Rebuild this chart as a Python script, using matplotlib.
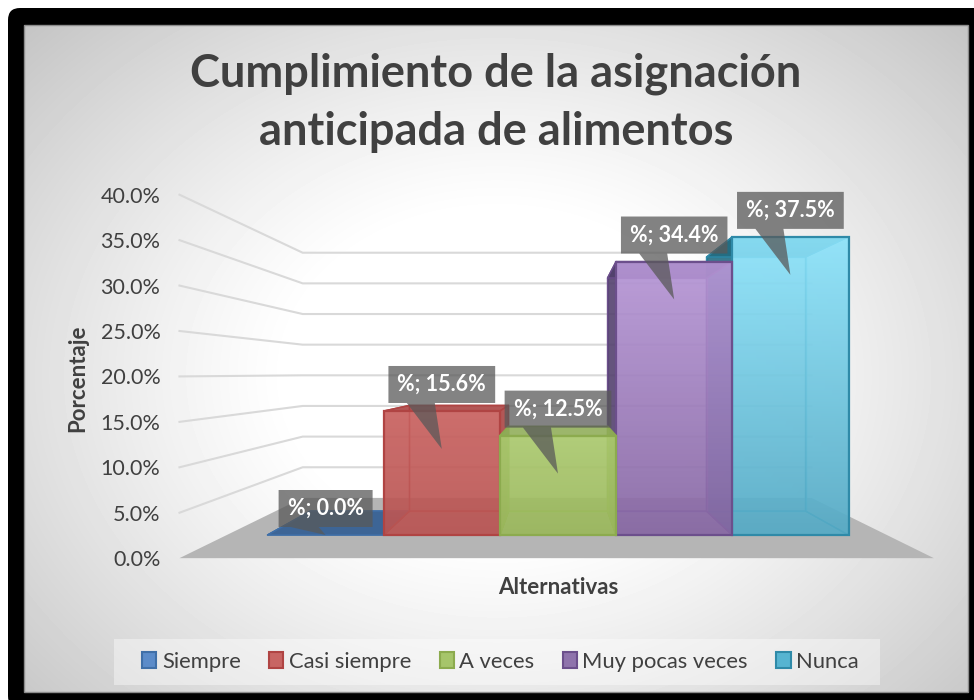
import numpy as np
import matplotlib
matplotlib.use('Agg')
import matplotlib.pyplot as plt
from matplotlib.patches import Polygon, Rectangle, Patch, FancyBboxPatch

# datos del grafico
categorias = ['Siempre', 'Casi siempre', 'A veces', 'Muy pocas veces', 'Nunca']
porcentajes = [0.0, 15.6, 12.5, 34.4, 37.5]
ticks_y = [0, 5, 10, 15, 20, 25, 30, 35, 40]
titulo = 'Cumplimiento de la asignación\nanticipada de alimentos'
eje_x = 'Alternativas'
eje_y = 'Porcentaje'

color_base = ['#5b8bc9', '#c86563', '#a6c56a', '#8f73ac', '#56b4d1']
color_borde = ['#3f6fa8', '#b04443', '#8cab4e', '#6c4f8c', '#2f8aa8']
color_oscuro = ['#3c6496', '#a84040', '#8fac58', '#4f3d6a', '#1f6a80']
color_arriba = ['#5b8bc9', '#c96260', '#abc96f', '#b797d7', '#8ee4fb']
color_abajo = ['#5b8bc9', '#b85452', '#9ab75b', '#8767a3', '#55aac5']

plt.rcParams['font.family'] = ['Lato', 'DejaVu Sans']
TEXTO = '#404040'

# escala del plano frontal de las barras: pixeles por categoria y por punto porcentual
PX_X = 116.2
PX_Y = 7.95
X0_PX = 267.5   # pixel x de la categoria 0
Y0_PX = 535.0   # pixel y del 0 %
XC = 2.5        # punto de fuga en unidades de categoria
YC = (Y0_PX - 373.0) / PX_Y

# profundidades de la perspectiva
S_PARED_FRENTE = 1.143
S_BARRA_FRENTE = 1.0
S_BARRA_FONDO = 0.852
S_PARED_FONDO = 0.771
X_IZQ = -0.35
X_DER = 5.33


def persp(x, y, s):
    return XC + s * (x - XC), YC + s * (y - YC)


fig = plt.figure(figsize=(9.74, 7.0), dpi=100, facecolor='white')

# fondo con degradado radial y marco negro, en pixeles
fondo = fig.add_axes([0, 0, 1, 1], zorder=0)
fondo.set_xlim(0, 974)
fondo.set_ylim(700, 0)
fondo.axis('off')
fondo.add_patch(FancyBboxPatch((8, 8), 980, 700, boxstyle='round,pad=0,rounding_size=12',
                               facecolor='black', edgecolor='none'))
yy, xx = np.mgrid[25:692, 24:968]
r = np.sqrt(((xx - 497) / 630.0) ** 2 + ((yy - 375) / 490.0) ** 2)
gris = 255 - 60 * np.clip((r - 0.33) / 0.72, 0, 1) ** 1.15
fondo.imshow(gris, extent=(24, 968, 692, 25), cmap='gray', vmin=0, vmax=255, aspect='auto', zorder=1)
fondo.add_patch(Rectangle((24, 25), 944, 667, fill=False, edgecolor='#8c8c8c', lw=1, zorder=2))
fondo.add_patch(Rectangle((114, 639), 766, 46, facecolor='white', alpha=0.4, edgecolor='none', zorder=3))
fondo.set_xlim(0, 974)
fondo.set_ylim(700, 0)

# ejes de datos: x en categorias, y en porcentaje
ax = fig.add_axes([0, 0, 1, 1], zorder=1)
ax.patch.set_alpha(0)
ax.axis('off')
ax.set_xlim(-X0_PX / PX_X, (974 - X0_PX) / PX_X)
ax.set_ylim((Y0_PX - 700) / PX_Y, Y0_PX / PX_Y)
ax.set_autoscale_on(False)

# lineas de division sobre las paredes
for v in ticks_y[1:]:
    xs, ys = zip(persp(X_IZQ, v, S_PARED_FRENTE), persp(X_IZQ, v, S_PARED_FONDO), persp(X_DER, v, S_PARED_FONDO))
    ax.plot(xs, ys, color='#d9d9d9', lw=1.5, zorder=1, solid_joinstyle='miter')

# etiquetas del eje y
for v in ticks_y:
    x, y = persp(X_IZQ, v, S_PARED_FRENTE)
    ax.text(x - 19 / PX_X, y - 2 / PX_Y, '%.1f%%' % v, ha='right', va='center', fontsize=15.5, color=TEXTO, zorder=8)

# piso
piso = [persp(X_IZQ, 0, S_PARED_FRENTE), persp(X_DER, 0, S_PARED_FRENTE),
        persp(X_DER, 0, S_PARED_FONDO), persp(X_IZQ, 0, S_PARED_FONDO)]
ax.add_patch(Polygon(piso, closed=True, facecolor='#b5b5b5', edgecolor='none', zorder=2))


def cara(puntos, color, alpha, borde, lw, z):
    p = Polygon(puntos, closed=True, facecolor=color, edgecolor='none', zorder=z, lw=0)
    p.set_alpha(alpha)
    ax.add_patch(p)
    ax.add_patch(Polygon(puntos, closed=True, fill=False, edgecolor=borde, lw=lw, zorder=z + 0.1, joinstyle='round'))


def dibujar_barra(i, z):
    v = porcentajes[i]
    x0, x1 = i, i + 1
    f = S_BARRA_FRENTE
    b = S_BARRA_FONDO
    base = color_base[i]
    borde = color_borde[i]
    oscuro = color_oscuro[i]
    # fondo, caras laterales, piso y tapa
    cara([persp(x0, 0, b), persp(x1, 0, b), persp(x1, v, b), persp(x0, v, b)], base, 0.25, base, 1.0, z)
    cara([persp(x0, 0, f), persp(x1, 0, f), persp(x1, 0, b), persp(x0, 0, b)], oscuro if v == 0 else base, 0.9 if v == 0 else 0.25, borde, 1.0, z + 0.2)
    # la cara que queda hacia afuera es la mas oscura
    cara([persp(x0, 0, f), persp(x0, v, f), persp(x0, v, b), persp(x0, 0, b)],
         oscuro if i >= 2 else base, 0.85 if i >= 2 else 0.25, borde, 1.0, z + 0.3)
    cara([persp(x1, 0, f), persp(x1, v, f), persp(x1, v, b), persp(x1, 0, b)],
         oscuro if i <= 2 else base, 0.85 if i <= 2 else 0.25, borde, 1.0, z + 0.4)
    cara([persp(x0, v, f), persp(x1, v, f), persp(x1, v, b), persp(x0, v, b)], oscuro, 0.85, borde, 1.0, z + 0.5)
    if v == 0:
        return
    # cara frontal con degradado
    c0 = np.array(matplotlib.colors.to_rgb(color_arriba[i]))
    c1 = np.array(matplotlib.colors.to_rgb(color_abajo[i]))
    t = np.linspace(0, 1, 128)[:, None, None]
    img = c0[None, None, :] * (1 - t) + c1[None, None, :] * t
    frente = [(x0, 0), (x1, 0), (x1, v), (x0, v)]
    im = ax.imshow(img, extent=(x0, x1, 0, v), origin='upper', aspect='auto', alpha=0.9, zorder=z + 0.6)
    im.set_clip_path(Polygon(frente, closed=True, transform=ax.transData))
    ax.add_patch(Polygon(frente, closed=True, fill=False, edgecolor=borde, lw=1.6, zorder=z + 0.7))


# primero las barras mas alejadas del centro
for z, i in enumerate(sorted(range(5), key=lambda k: -abs(k - 2))):
    dibujar_barra(i, 3 + z)

# etiquetas de datos con globo
renderer = fig.canvas.get_renderer()
for i, v in enumerate(porcentajes):
    cx = i + 0.5
    tope = v
    base_caja = tope + 8 / PX_Y
    alto = 37 / PX_Y
    t = ax.text(cx, base_caja + alto / 2, '%%; %.1f%%' % v, color='white', fontweight='bold', fontsize=15.5,
                ha='center', va='center', zorder=21)
    w = t.get_window_extent(renderer).width
    mitad = (w / 2 + 9) / PX_X
    punta_y = max(tope - 38 / PX_Y, 0)
    p1 = cx - 35 / PX_X
    p2 = cx - 7 / PX_X
    caja = [(cx - mitad, base_caja), (p1, base_caja), (cx, punta_y), (p2, base_caja),
            (cx + mitad, base_caja), (cx + mitad, base_caja + alto), (cx - mitad, base_caja + alto)]
    globo = Polygon(caja, closed=True, facecolor='#595959', edgecolor='none', zorder=20)
    globo.set_alpha(0.75)
    ax.add_patch(globo)

# titulo y nombres de los ejes
fig.text(496 / 974, 1 - 103 / 700, titulo, ha='center', va='center', fontsize=32.5, fontweight='bold',
         color=TEXTO, linespacing=1.46)
fig.text(558 / 974, 1 - 587 / 700, eje_x, ha='center', va='center', fontsize=16, fontweight='bold', color=TEXTO)
fig.text(78 / 974, 1 - 378 / 700, eje_y, ha='center', va='center', rotation=90, fontsize=16, fontweight='bold', color=TEXTO)

# leyenda
handles = [Patch(facecolor=color_base[i], edgecolor=color_borde[i], lw=1.5, label=categorias[i]) for i in range(5)]
leg = ax.legend(handles=handles, ncol=5, loc='center', bbox_to_anchor=(500.5 / 974, 1 - 661.5 / 700),
                bbox_transform=fig.transFigure, frameon=False, fontsize=15.8, handlelength=0.64, handleheight=0.72,
                handletextpad=0.25, columnspacing=1.3, borderpad=0, labelcolor=TEXTO)
leg.set_zorder(30)

fig.savefig('out.png', dpi=100)
